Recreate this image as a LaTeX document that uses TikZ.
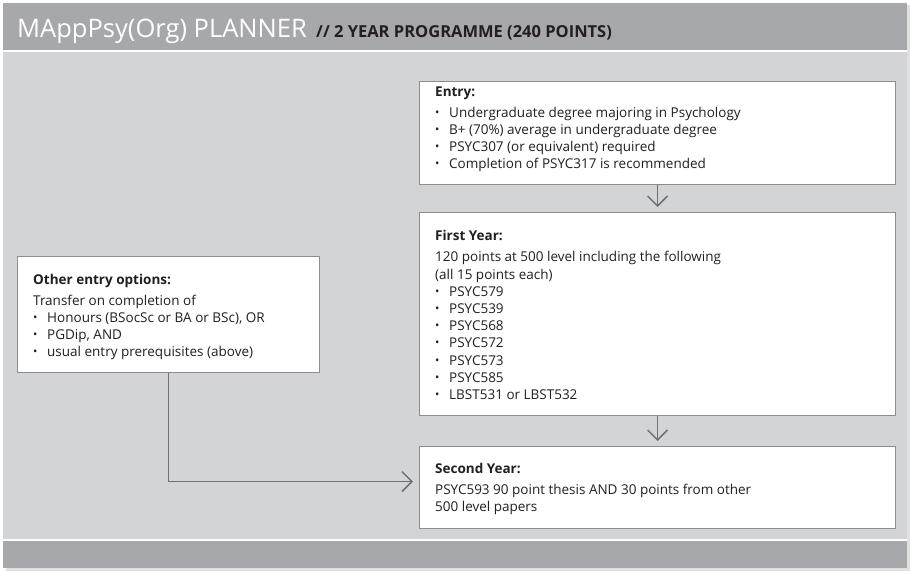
\documentclass[tikz,border=0pt]{standalone}
\usepackage{fontspec}
\setmainfont{Open Sans}
\usetikzlibrary{arrows.meta,calc}

\definecolor{bandgray}{RGB}{167,168,171}
\definecolor{bodygray}{RGB}{211,212,214}
\definecolor{edgegray}{RGB}{140,141,144}
\definecolor{arrowgray}{RGB}{112,113,116}
\definecolor{inkdark}{RGB}{35,31,32}

% bullet item: small dot followed by the text, indented
\newcommand{\bitem}[1]{\makebox[14pt][l]{\raisebox{1pt}{\scalebox{0.85}{\textbullet}}}#1}
\newcommand{\boxhead}[1]{\textbf{#1}\\[3.8pt]}

\tikzset{
  panelbox/.style={draw=edgegray, line width=1.1pt, fill=white, inner sep=0pt, anchor=north west},
  boxtext/.style={anchor=base west, inner sep=0pt, text=inkdark,
    font=\fontsize{13.5}{17.2}\selectfont},
  flowarrow/.style={draw=arrowgray, line width=1.5pt,
    -{Straight Barb[length=10pt,width=20pt,line width=1.5pt]}},
}

\begin{document}
\begin{tikzpicture}[x=1pt,y=-1pt]
  \useasboundingbox (0,0) rectangle (910,571);
  \fill[white] (0,0) rectangle (910,571);

  % soft shadow and panel frame
  \fill[black!12] (6,5) rectangle (910,571);
  \fill[bodygray] (3,3) rectangle (907,568);
  % header band
  \fill[bandgray] (3,3) rectangle (907,50);
  \fill[white] (3,50) rectangle (907,52);
  % footer band
  \fill[white] (3,539) rectangle (907,541);
  \fill[bandgray] (3,541) rectangle (907,568);

  % title
  \node[anchor=base west, inner sep=0pt, text=white,
        font=\fontsize{25.5}{30}\selectfont] (title) at (17,37) {MAppPsy(Org) PLANNER};
  \node[anchor=base west, inner sep=0pt, text=inkdark,
        font=\bfseries\fontsize{16.5}{20}\selectfont] (subtitle)
        at ($(title.base east)+(9,0)$) {// 2 YEAR PROGRAMME (240 POINTS)};

  % boxes
  \node[panelbox, minimum width=476pt, minimum height=103pt] (entry) at (419,81) {};
  \node[panelbox, minimum width=476pt, minimum height=203pt] (first) at (419,212) {};
  \node[panelbox, minimum width=476pt, minimum height=82pt] (second) at (419,446) {};
  \node[panelbox, minimum width=302pt, minimum height=116pt] (other) at (17,256) {};

  % box contents
  \node[boxtext] (entrytext) at (435,96) {\begin{tabular}[t]{@{}l@{}}
    \boxhead{Entry:}
    \bitem{Undergraduate degree majoring in Psychology}\\
    \bitem{B+ (70\%) average in undergraduate degree}\\
    \bitem{PSYC307 (or equivalent) required}\\
    \bitem{Completion of PSYC317 is recommended}
  \end{tabular}};

  \node[boxtext] (firsttext) at (435,240) {\begin{tabular}[t]{@{}l@{}}
    \textbf{First Year:}\\[4.6pt]
    120 points at 500 level including the following\\
    (all 15 points each)\\
    \bitem{PSYC579}\\
    \bitem{PSYC539}\\
    \bitem{PSYC568}\\
    \bitem{PSYC572}\\
    \bitem{PSYC573}\\
    \bitem{PSYC585}\\
    \bitem{LBST531 or LBST532}
  \end{tabular}};

  \node[boxtext] (secondtext) at (435,473) {\begin{tabular}[t]{@{}l@{}}
    \boxhead{Second Year:}
    PSYC593 90 point thesis AND 30 points from other\\
    500 level papers
  \end{tabular}};

  \node[boxtext] (othertext) at (33,284) {\begin{tabular}[t]{@{}l@{}}
    \boxhead{Other entry options:}
    Transfer on completion of\\
    \bitem{Honours (BSocSc or BA or BSc), OR}\\
    \bitem{PGDip, AND}\\
    \bitem{usual entry prerequisites (above)}
  \end{tabular}};

  % connectors
  \draw[flowarrow] (entry.south) -- ([yshift=5pt]first.north);
  \draw[flowarrow] (first.south) -- ([yshift=5pt]second.north);
  \draw[flowarrow] (other.south) |- ([xshift=-6pt,yshift=6pt]second.west);
\end{tikzpicture}
\end{document}
